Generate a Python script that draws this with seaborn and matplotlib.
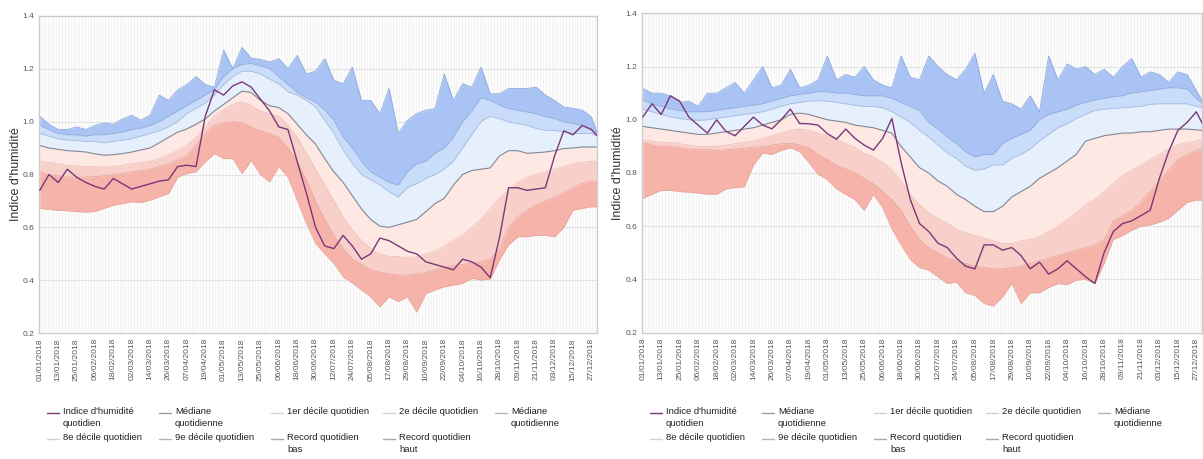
import numpy as np
import pandas as pd
import matplotlib
matplotlib.use("Agg")
import matplotlib.pyplot as plt
import matplotlib.dates as mdates
from matplotlib.lines import Line2D
import seaborn as sns

# Sampling: every 6 days from 1 Jan, plus 31 Dec
sample_days = list(range(0, 361, 6)) + [364]

# ---------------- Left station ----------------
left_index = [0.74, 0.80, 0.77, 0.82, 0.79, 0.77, 0.755, 0.745, 0.785, 0.765, 0.745, 0.755, 0.765, 0.775, 0.78, 0.83,
              0.835, 0.83, 1.02, 1.12, 1.10, 1.135, 1.15, 1.13, 1.085, 1.04, 0.98, 0.97, 0.85, 0.73, 0.60,
              0.53, 0.52, 0.57, 0.53, 0.48, 0.50, 0.56, 0.55, 0.53, 0.51, 0.50, 0.47, 0.46, 0.45, 0.44,
              0.48, 0.47, 0.45, 0.41, 0.56, 0.75, 0.75, 0.74, 0.745, 0.75, 0.87, 0.965, 0.95, 0.985, 0.97, 0.945]
left_high = [1.02, 0.99, 0.97, 0.97, 0.98, 0.97, 0.985, 0.995, 0.99, 1.01, 1.024, 1.005, 1.024, 1.10, 1.08, 1.12,
             1.14, 1.17, 1.14, 1.13, 1.27, 1.20, 1.28, 1.24, 1.235, 1.225, 1.238, 1.20, 1.25, 1.18, 1.19,
             1.238, 1.156, 1.143, 1.206, 1.08, 1.08, 1.03, 1.125, 0.955, 1.005, 1.03, 1.043, 1.05, 1.18, 1.08,
             1.143, 1.13, 1.206, 1.105, 1.105, 1.125, 1.125, 1.125, 1.13, 1.10, 1.08, 1.055, 1.05, 1.043, 1.018, 0.955]
left_p90 = [0.985, 0.97, 0.955, 0.95, 0.95, 0.945, 0.95, 0.95, 0.955, 0.96, 0.97, 0.975, 0.985, 1.0, 1.02, 1.04,
            1.06, 1.08, 1.10, 1.12, 1.17, 1.20, 1.215, 1.22, 1.21, 1.20, 1.17, 1.14, 1.11, 1.09, 1.074,
            1.043, 1.005, 0.942, 0.90, 0.85, 0.81, 0.79, 0.77, 0.76, 0.81, 0.84, 0.85, 0.88, 0.90, 0.94,
            1.0, 1.04, 1.09, 1.08, 1.062, 1.049, 1.043, 1.036, 1.03, 1.018, 1.011, 0.999, 0.992, 0.986, 0.974, 0.952]
left_p80 = [0.955, 0.945, 0.935, 0.93, 0.928, 0.925, 0.925, 0.92, 0.925, 0.93, 0.935, 0.945, 0.955, 0.965, 0.98, 1.0,
            1.03, 1.05, 1.07, 1.10, 1.14, 1.17, 1.19, 1.19, 1.18, 1.16, 1.143, 1.112, 1.10, 1.08, 1.055,
            1.005, 0.955, 0.892, 0.842, 0.80, 0.78, 0.76, 0.735, 0.715, 0.75, 0.765, 0.785, 0.80, 0.82, 0.85,
            0.90, 0.95, 1.0, 1.02, 1.011, 0.999, 0.992, 0.986, 0.974, 0.967, 0.967, 0.961, 0.955, 0.955, 0.955, 0.945]
left_median = [0.91, 0.90, 0.895, 0.89, 0.888, 0.885, 0.878, 0.873, 0.875, 0.879, 0.885, 0.893, 0.90, 0.92, 0.94, 0.96,
               0.972, 0.99, 1.01, 1.04, 1.065, 1.09, 1.115, 1.11, 1.08, 1.06, 1.053, 1.03, 0.99, 0.95, 0.915,
               0.86, 0.81, 0.77, 0.72, 0.67, 0.63, 0.605, 0.60, 0.61, 0.62, 0.63, 0.66, 0.69, 0.71, 0.76,
               0.80, 0.815, 0.82, 0.825, 0.87, 0.89, 0.89, 0.88, 0.882, 0.885, 0.89, 0.898, 0.90, 0.904, 0.904, 0.904]
left_p20 = [0.85, 0.845, 0.84, 0.835, 0.832, 0.83, 0.83, 0.828, 0.83, 0.835, 0.84, 0.845, 0.85, 0.86, 0.875, 0.89,
            0.91, 0.94, 0.98, 1.02, 1.045, 1.065, 1.075, 1.06, 1.04, 1.03, 1.02, 0.985, 0.94, 0.88, 0.82,
            0.76, 0.70, 0.64, 0.59, 0.55, 0.52, 0.50, 0.49, 0.49, 0.485, 0.49, 0.50, 0.51, 0.53, 0.55,
            0.57, 0.60, 0.63, 0.67, 0.71, 0.74, 0.77, 0.79, 0.80, 0.81, 0.82, 0.83, 0.84, 0.845, 0.85, 0.85]
left_p10 = [0.81, 0.80, 0.795, 0.79, 0.79, 0.79, 0.792, 0.795, 0.80, 0.805, 0.81, 0.815, 0.82, 0.83, 0.84, 0.855,
            0.87, 0.91, 0.955, 0.985, 0.995, 1.0, 0.995, 0.98, 0.965, 0.955, 0.94, 0.90, 0.85, 0.78, 0.70,
            0.63, 0.57, 0.52, 0.48, 0.46, 0.44, 0.43, 0.425, 0.42, 0.42, 0.425, 0.43, 0.44, 0.45, 0.455,
            0.46, 0.465, 0.47, 0.48, 0.52, 0.60, 0.64, 0.665, 0.685, 0.70, 0.715, 0.73, 0.75, 0.765, 0.775, 0.775]
left_low = [0.672, 0.668, 0.665, 0.663, 0.66, 0.658, 0.66, 0.672, 0.684, 0.69, 0.697, 0.694, 0.703, 0.716, 0.728, 0.79,
            0.804, 0.81, 0.848, 0.879, 0.86, 0.86, 0.804, 0.853, 0.80, 0.772, 0.83, 0.79, 0.703, 0.615, 0.54,
            0.50, 0.464, 0.413, 0.39, 0.364, 0.338, 0.30, 0.338, 0.32, 0.338, 0.28, 0.35, 0.364, 0.376, 0.382,
            0.389, 0.408, 0.401, 0.405, 0.477, 0.534, 0.565, 0.565, 0.57, 0.57, 0.565, 0.60, 0.665, 0.672, 0.678, 0.678]

# ---------------- Right station ----------------
right_index = [1.01, 1.06, 1.02, 1.09, 1.07, 1.01, 0.98, 0.95, 1.0, 0.957, 0.94, 0.975, 1.01, 0.98, 0.966, 1.0,
               1.04, 0.986, 0.985, 0.98, 0.948, 0.927, 0.965, 0.93, 0.905, 0.886, 0.93, 1.005, 0.84, 0.70, 0.61,
               0.58, 0.536, 0.52, 0.48, 0.45, 0.44, 0.53, 0.53, 0.51, 0.52, 0.49, 0.44, 0.465, 0.42, 0.44,
               0.47, 0.44, 0.41, 0.385, 0.50, 0.58, 0.61, 0.62, 0.64, 0.66, 0.78, 0.88, 0.96, 0.99, 1.03, 0.985]
right_high = [1.118, 1.10, 1.10, 1.09, 1.065, 1.07, 1.05, 1.10, 1.10, 1.12, 1.14, 1.10, 1.15, 1.20, 1.12, 1.13,
              1.19, 1.12, 1.13, 1.15, 1.24, 1.15, 1.17, 1.16, 1.20, 1.15, 1.13, 1.12, 1.24, 1.16, 1.15,
              1.24, 1.20, 1.17, 1.15, 1.19, 1.25, 1.10, 1.17, 1.07, 1.06, 1.04, 1.09, 1.03, 1.24, 1.15,
              1.21, 1.19, 1.20, 1.17, 1.19, 1.16, 1.20, 1.23, 1.16, 1.18, 1.17, 1.14, 1.18, 1.17, 1.11, 1.07]
right_p90 = [1.075, 1.06, 1.05, 1.04, 1.035, 1.03, 1.03, 1.03, 1.035, 1.04, 1.045, 1.05, 1.055, 1.06, 1.07, 1.08,
             1.09, 1.095, 1.10, 1.105, 1.105, 1.10, 1.10, 1.095, 1.09, 1.09, 1.09, 1.08, 1.065, 1.05, 1.035,
             0.99, 0.965, 0.935, 0.91, 0.88, 0.86, 0.87, 0.87, 0.91, 0.93, 0.945, 0.96, 1.0, 1.02, 1.03,
             1.04, 1.055, 1.065, 1.075, 1.08, 1.087, 1.09, 1.10, 1.105, 1.11, 1.115, 1.12, 1.12, 1.115, 1.08, 1.06]
right_p80 = [1.04, 1.03, 1.02, 1.01, 1.005, 1.0, 0.998, 1.0, 1.005, 1.01, 1.015, 1.02, 1.025, 1.03, 1.04, 1.05,
             1.06, 1.065, 1.07, 1.072, 1.07, 1.065, 1.06, 1.055, 1.05, 1.05, 1.045, 1.03, 1.01, 0.99, 0.96,
             0.935, 0.905, 0.875, 0.855, 0.825, 0.81, 0.815, 0.83, 0.83, 0.855, 0.87, 0.89, 0.92, 0.945, 0.97,
             0.985, 1.005, 1.02, 1.035, 1.04, 1.043, 1.045, 1.048, 1.05, 1.058, 1.06, 1.06, 1.06, 1.06, 1.05, 1.045]
right_median = [0.975, 0.97, 0.965, 0.96, 0.955, 0.95, 0.945, 0.945, 0.95, 0.955, 0.96, 0.965, 0.97, 0.98, 0.99, 1.0,
                1.02, 1.025, 1.02, 1.01, 1.0, 0.995, 0.99, 0.98, 0.975, 0.97, 0.96, 0.95, 0.90, 0.86, 0.82,
                0.80, 0.77, 0.75, 0.72, 0.70, 0.675, 0.655, 0.655, 0.675, 0.71, 0.73, 0.75, 0.78, 0.80, 0.82,
                0.845, 0.87, 0.92, 0.93, 0.94, 0.945, 0.95, 0.95, 0.955, 0.955, 0.96, 0.965, 0.965, 0.965, 0.962, 0.96]
right_p20 = [0.925, 0.92, 0.915, 0.915, 0.91, 0.905, 0.90, 0.90, 0.90, 0.905, 0.91, 0.915, 0.92, 0.93, 0.94, 0.95,
             0.96, 0.965, 0.96, 0.95, 0.94, 0.925, 0.91, 0.895, 0.875, 0.86, 0.84, 0.81, 0.77, 0.72, 0.68,
             0.65, 0.63, 0.61, 0.59, 0.575, 0.565, 0.555, 0.545, 0.535, 0.535, 0.545, 0.55, 0.56, 0.58, 0.60,
             0.625, 0.65, 0.68, 0.70, 0.73, 0.76, 0.79, 0.81, 0.83, 0.85, 0.87, 0.89, 0.905, 0.915, 0.92, 0.925]
right_p10 = [0.915, 0.905, 0.90, 0.90, 0.895, 0.89, 0.888, 0.887, 0.885, 0.887, 0.89, 0.893, 0.897, 0.90, 0.905, 0.91,
             0.912, 0.905, 0.895, 0.87, 0.85, 0.83, 0.815, 0.80, 0.78, 0.76, 0.73, 0.70, 0.66, 0.60, 0.55,
             0.52, 0.50, 0.48, 0.47, 0.46, 0.45, 0.445, 0.44, 0.44, 0.445, 0.45, 0.46, 0.47, 0.48, 0.49,
             0.50, 0.51, 0.52, 0.53, 0.55, 0.62, 0.64, 0.66, 0.69, 0.73, 0.77, 0.81, 0.85, 0.87, 0.885, 0.89]
right_low = [0.705, 0.72, 0.735, 0.735, 0.73, 0.728, 0.725, 0.72, 0.72, 0.74, 0.745, 0.748, 0.83, 0.875, 0.87, 0.885,
             0.895, 0.88, 0.84, 0.795, 0.775, 0.74, 0.72, 0.70, 0.66, 0.72, 0.67, 0.59, 0.53, 0.475, 0.445,
             0.435, 0.41, 0.385, 0.39, 0.35, 0.34, 0.31, 0.30, 0.335, 0.385, 0.31, 0.35, 0.35, 0.37, 0.385,
             0.38, 0.398, 0.40, 0.385, 0.46, 0.55, 0.565, 0.585, 0.60, 0.605, 0.615, 0.63, 0.66, 0.69, 0.698, 0.698]

y_ticks = [0.2, 0.4, 0.6, 0.8, 1.0, 1.2, 1.4]
y_title = "Indice d'humidité"
legend_rows = [
    ["Indice d'humidité\nquotidien", "Médiane\nquotidienne", "1er décile quotidien",
     "2e décile quotidien", "Médiane\nquotidienne"],
    ["8e décile quotidien", "9e décile quotidien", "Record quotidien\nbas", "Record quotidien\nhaut"],
]
legend_colors = [
    ["#7a3779", "#9a9aa4", "#d2d2d2", "#d2d2d2", "#b4b4b4"],
    ["#d2d2d2", "#b4b4b4", "#a8a8a8", "#a8a8a8"],
]

start = pd.Timestamp("2018-01-01")
dates = start + pd.to_timedelta(sample_days, unit="D")
all_days = pd.date_range("2018-01-01", "2018-12-31", freq="D")
tick_dates = pd.date_range("2018-01-01", "2018-12-31", freq="12D")


def make_frame(index, high, p90, p80, median, p20, p10, low):
    return pd.DataFrame({"date": dates, "index": index, "high": high, "p90": p90, "p80": p80,
                         "median": median, "p20": p20, "p10": p10, "low": low})


panels = [
    make_frame(left_index, left_high, left_p90, left_p80, left_median, left_p20, left_p10, left_low),
    make_frame(right_index, right_high, right_p90, right_p80, right_median, right_p20, right_p10, right_low),
]

sns.set_theme(style="white")
plt.rcParams["font.family"] = ["Liberation Sans", "DejaVu Sans"]

W, H = 1203, 459
fig = plt.figure(figsize=(W / 100, H / 100), dpi=100)
fig.patch.set_facecolor("white")

# axes boxes in pixels: left, top, right, bottom, y-label right edge
boxes = [(39, 15.7, 597, 333.3, 22), (642, 13.3, 1202, 332.7, 624)]

bands = [
    ("low", "p10", "#f6b3a9"),
    ("p10", "p20", "#f9d0c9"),
    ("p20", "median", "#fde8e3"),
    ("median", "p80", "#e6f0fd"),
    ("p80", "p90", "#c9dcfa"),
    ("p90", "high", "#a9c4f4"),
]
edges = {
    "low": ("#eaa79e", 0.6), "p10": ("#e9a89f", 0.6), "p20": ("#efc0b8", 0.6),
    "median": ("#85858f", 0.8), "p80": ("#a7bbdd", 0.6), "p90": ("#93aedd", 0.6),
    "high": ("#8ea9dc", 0.6),
}

for df, (l, t, r, b, ylab_x) in zip(panels, boxes):
    ax = fig.add_axes([l / W, 1 - b / H, (r - l) / W, (b - t) / H])
    ax.set_facecolor("#f3f3f3")
    # fine daily stripes and horizontal grid
    ax.vlines(all_days, 0.2, 1.4, color="white", lw=0.55, zorder=0.2)
    for yv in y_ticks[1:-1]:
        ax.axhline(yv, color="#e3e3e3", lw=0.8, zorder=0.3)

    for lo, hi, col in bands:
        ax.fill_between(df["date"], df[lo], df[hi], color=col, lw=0, zorder=1)
    for key, (col, lw) in edges.items():
        sns.lineplot(data=df, x="date", y=key, ax=ax, color=col, lw=lw, zorder=2)
    sns.lineplot(data=df, x="date", y="index", ax=ax, color="#7a3779", lw=1.0, zorder=3)

    ax.set_ylim(0.2, 1.4)
    ax.set_xlim(start - pd.Timedelta(hours=12), start + pd.Timedelta(days=363.7))
    ax.set_yticks(y_ticks)
    ax.set_yticklabels([f"{v:.1f}" for v in y_ticks], fontsize=6, color="#555555")
    ax.set_xticks(tick_dates)
    ax.xaxis.set_major_formatter(mdates.DateFormatter("%d/%m/%Y"))
    ax.tick_params(axis="x", labelrotation=90, labelsize=6, labelcolor="#555555",
                   length=2, color="#bbbbbb", pad=1.5)
    ax.tick_params(axis="y", length=2, color="#bbbbbb", pad=1.5)
    ax.set_xlabel("")
    ax.set_ylabel(y_title, fontsize=9, color="#333333")
    ax.yaxis.set_label_coords((ylab_x - l) / (r - l), 0.5)
    for s in ax.spines.values():
        s.set_color("#cccccc")
        s.set_linewidth(1.0)

    # legend block under the panel
    for row_i, (labels, cols) in enumerate(zip(legend_rows, legend_colors)):
        y_px = 413 + row_i * 26
        for c_i, (lab, col) in enumerate(zip(labels, cols)):
            tx = l + 24 + 112 * c_i
            fig.add_artist(Line2D([(tx - 16) / W, (tx - 4) / W], [1 - y_px / H] * 2,
                                  color=col, lw=1.0))
            fig.text(tx / W, 1 - (y_px - 5.5) / H, lab, fontsize=6.8, color="#222222",
                     va="top", ha="left", linespacing=1.3)

fig.savefig("out.png", dpi=100, facecolor="white")
